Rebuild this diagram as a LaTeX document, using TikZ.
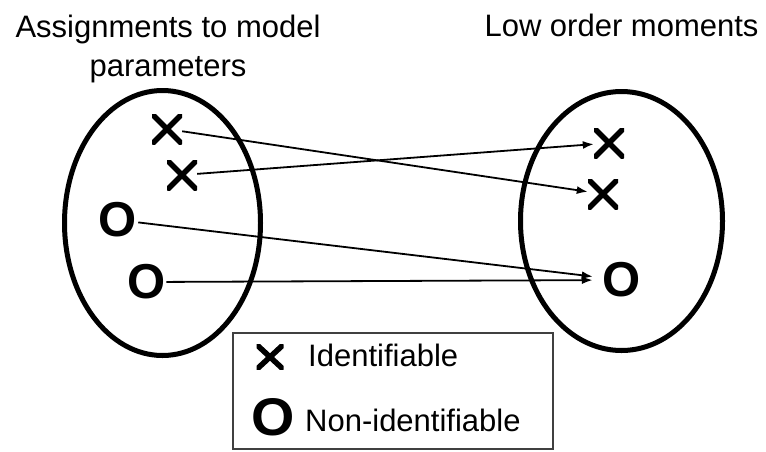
\documentclass[tikz,border=0pt]{standalone}
\usepackage{fontspec}
\setmainfont{Liberation Sans}
\usetikzlibrary{arrows.meta}
\begin{document}
\begin{tikzpicture}[x=1pt,y=-1pt,
  crossmark/.style={draw=none,minimum width=30pt,minimum height=30pt,inner sep=0pt,
    path picture={\draw[line width=5.5pt]
      (path picture bounding box.north west) -- (path picture bounding box.south east)
      (path picture bounding box.south west) -- (path picture bounding box.north east);}},
  crosssmall/.style={crossmark,minimum width=27pt,minimum height=25pt},
  omark/.style={inner sep=0pt,font=\fontsize{49}{49}\selectfont\bfseries},
  olegend/.style={inner sep=0pt,font=\fontsize{53}{53}\selectfont\bfseries},
  label/.style={font=\fontsize{31}{39}\selectfont,align=center,inner sep=0pt},
  conn/.style={line width=1.8pt,-{Latex[length=11pt,width=8pt]}},
  legbox/.style={draw=black!75,line width=1.3pt}]
\useasboundingbox (0,0) rectangle (766,451);
% ellipses
\draw[line width=5pt] (162.5,223) ellipse [x radius=98, y radius=132.5];
\draw[line width=5pt] (621.5,221) ellipse [x radius=101, y radius=129.5];
% titles
\node[label,anchor=base] (t1) at (168,76) {Assignments to model\\parameters};
\node[label,anchor=base] (t2) at (621.5,36) {Low order moments};
% markers left
\node[crossmark] (x1) at (167,129) {};
\node[crossmark] (x2) at (182,175) {};
\node[omark] (o1) at (118,220) {O};
\node[omark] (o2) at (147,282) {O};
% markers right
\node[crossmark] (x3) at (609,143) {};
\node[crossmark] (x4) at (603,194) {};
\node[omark] (o3) at (622,280) {O};
% connectors
\draw[conn] (x1) -- (x4);
\draw[conn] (x2) -- (x3);
\draw[conn,shorten <=1pt,shorten >=10pt] (o1) -- (o3);
\draw[conn,shorten >=10pt] (o2) -- (o3);
% legend
\draw[legbox] (233,333) rectangle (553,449);
\node[crosssmall] (lx) at (270,357) {};
\node[label,anchor=base west] (lt1) at (308,366) {Identifiable};
\node[olegend] (lo) at (273.5,417) {\scalebox{1.05}[1]{O}};
\node[label,anchor=base west] (lt2) at (305,431) {Non-identifiable};
\end{tikzpicture}
\end{document}
